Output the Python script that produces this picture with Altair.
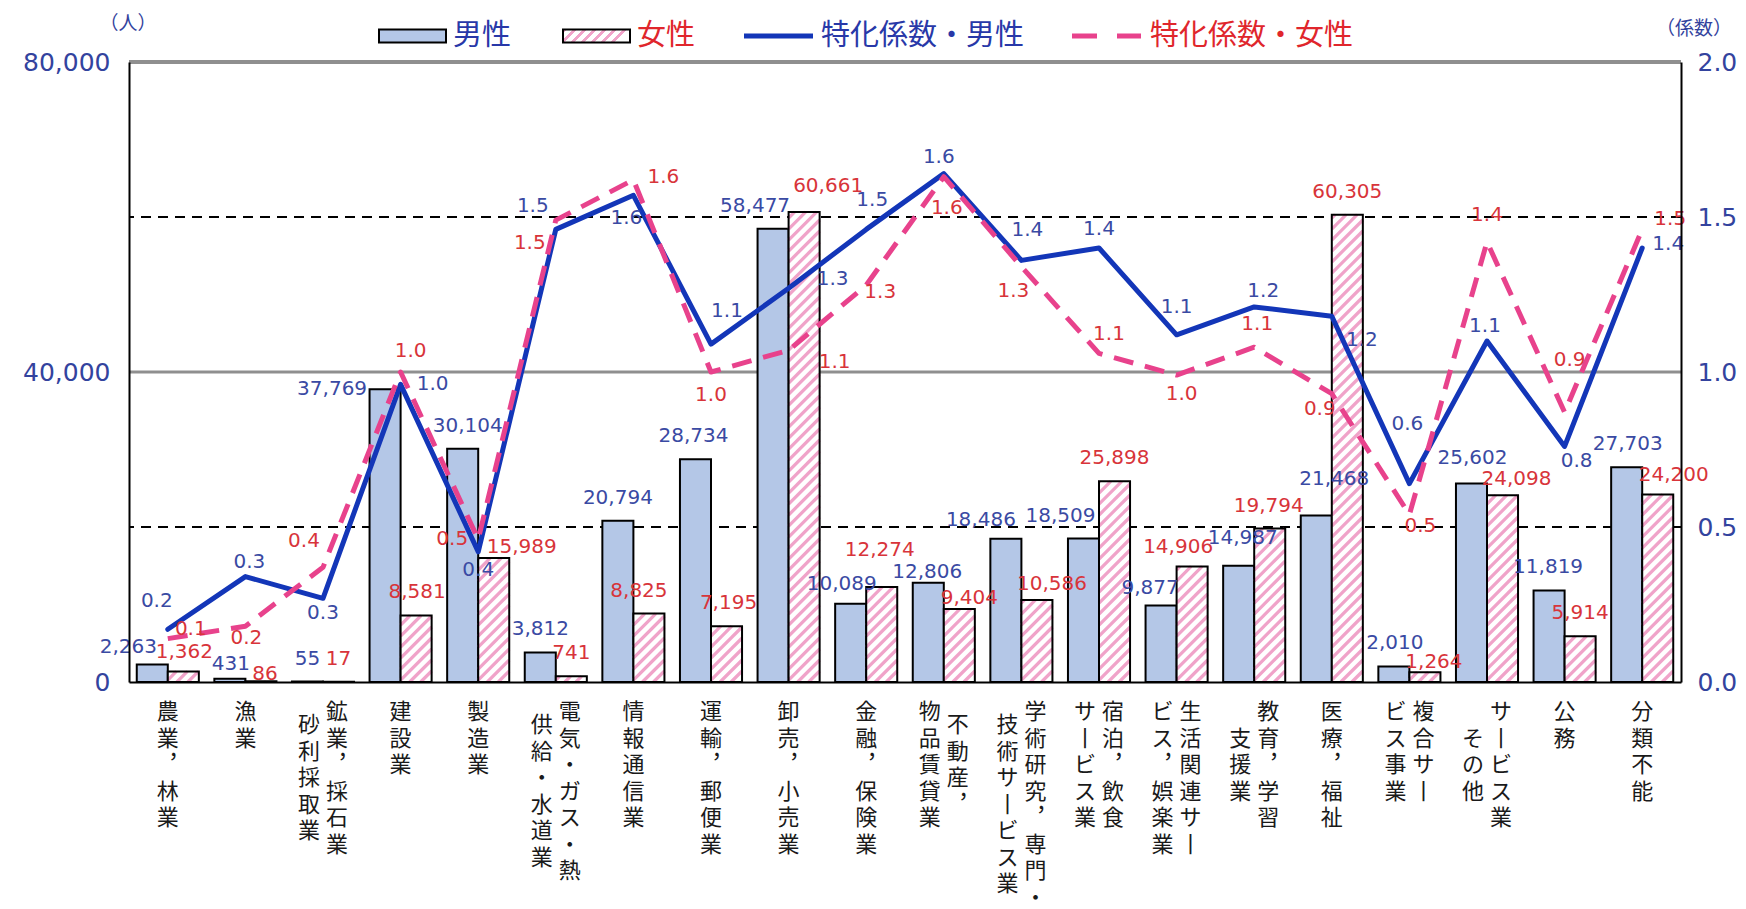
import altair as alt
import pandas as pd

# ---------------- data ----------------
CATEGORIES = ["農業，林業", "漁業", "鉱業，採石業，砂利採取業", "建設業", "製造業",
              "電気・ガス・熱供給・水道業", "情報通信業", "運輸，郵便業", "卸売，小売業", "金融，保険業",
              "不動産，物品賃貸業", "学術研究，専門・技術サービス業", "宿泊，飲食サービス業",
              "生活関連サービス業，娯楽業", "教育，学習支援業", "医療，福祉", "複合サービス事業",
              "サービス業（その他）", "公務", "分類不能"]
# tick labels as they are wrapped in the picture (vertical text, right column first)
LABEL_COLUMNS = [["農業，林業"], ["漁業"], ["鉱業，採石業", "砂利採取業"], ["建設業"], ["製造業"],
                 ["電気・ガス・熱", "供給・水道業"], ["情報通信業"], ["運輸，郵便業"], ["卸売，小売業"],
                 ["金融，保険業"], ["不動産，", "物品賃貸業"], ["学術研究，専門・", "技術サービス業"],
                 ["宿泊，飲食", "サービス業"], ["生活関連サー", "ビス，娯楽業"], ["教育，学習", "支援業"],
                 ["医療，福祉"], ["複合サー", "ビス事業"], ["サービス業", "その他"], ["公務"], ["分類不能"]]
MALE = [2263, 431, 55, 37769, 30104, 3812, 20794, 28734, 58477, 10089,
        12806, 18486, 18509, 9877, 14987, 21468, 2010, 25602, 11819, 27703]
FEMALE = [1362, 86, 17, 8581, 15989, 741, 8825, 7195, 60661, 12274,
          9404, 10586, 25898, 14906, 19794, 60305, 1264, 24098, 5914, 24200]
COEF_MALE = [0.17, 0.34, 0.27, 0.96, 0.42, 1.46, 1.57, 1.09, 1.27, 1.46,
             1.64, 1.36, 1.40, 1.12, 1.21, 1.18, 0.64, 1.10, 0.76, 1.40]
COEF_FEMALE = [0.14, 0.18, 0.37, 1.00, 0.46, 1.49, 1.62, 1.00, 1.07, 1.28,
               1.63, 1.34, 1.06, 0.99, 1.08, 0.93, 0.54, 1.42, 0.87, 1.46]
LEFT_TICKS = [0, 40000, 80000]
RIGHT_TICKS = [0.0, 0.5, 1.0, 1.5, 2.0]
LEGEND_LABELS = ["男性", "女性", "特化係数・男性", "特化係数・女性"]
UNIT_LEFT = "（人）"
UNIT_RIGHT = "（係数）"

# ---------------- label placement (style, pixels: dx right, dy down) ----------------
MALE_LABEL_OFF = [(-24, 6), (1, 8), (0, 0), (-53, 23), (5, 0), (0, 0), (0, 0), (-2, 0), (-18, 0), (-9, 3),
                  (-1, 12), (-25, 4), (-23, 0), (-11, 6), (4, -5), (18, -14), (1, 0), (1, -3), (-1, 0), (1, 0)]
FEMALE_LABEL_OFF = [(1, 4), (4, 16), (0, 0), (1, 0), (28, 12), (0, 0), (-10, 0), (2, 0), (24, -3), (-2, -14),
                    (10, 12), (15, 7), (0, 0), (-14, 4), (-1, 0), (0, 0), (9, 13), (14, 7), (0, 0), (16, 4)]
CM_LABEL_OFF = [(-11, -28), (4, -15), (0, 15), (32, 0), (0, 18), (-23, -23), (-7, 23), (16, -33), (44, -9), (6, -29),
                (-5, -17), (6, -30), (0, -19), (0, -28), (9, -16), (30, 24), (-2, -60), (-2, -15), (12, 15), (26, -4)]
CF_LABEL_OFF = [(23, -10), (1, 12), (-19, -26), (10, -21), (-26, 0), (-26, 23), (30, -3), (0, 23), (46, 12), (14, 7),
                (3, 31), (-8, 24), (10, -19), (5, 19), (3, -23), (-12, 15), (11, 11), (0, -27), (5, -52), (28, -10)]

# ---------------- styles ----------------
W, H = 1552, 620
PXU = W / 20.0          # px per category
PYL = H / 80000.0       # px per person
PYR = H / 2.0           # px per coefficient unit
NUM_FONT = "DejaVu Sans"
JP_FONT = "Noto Sans CJK JP"
AX_BLUE = "#33439E"
BLUE_TXT = "#3A4AA3"
RED_TXT = "#D8343A"
LEG_BLUE = "#2838A8"
LEG_RED = "#E0262C"
BLUE_LINE = "#1336B8"
PINK_LINE = "#E8428C"
MALE_FILL = "#B4C7E7"
STRIPE = "#F0A3C9"
BW_PX = 0.4 * PXU
STRIPE_STEP = 11

rows = []
for i, c in enumerate(CATEGORIES):
    rows.append(dict(cat=c, idx=i, male=MALE[i], female=FEMALE[i], cm=COEF_MALE[i], cf=COEF_FEMALE[i],
                     mdx=MALE_LABEL_OFF[i][0], mdy=MALE_LABEL_OFF[i][1],
                     fdx=FEMALE_LABEL_OFF[i][0], fdy=FEMALE_LABEL_OFF[i][1],
                     cmdx=CM_LABEL_OFF[i][0], cmdy=CM_LABEL_OFF[i][1],
                     cfdx=CF_LABEL_OFF[i][0], cfdy=CF_LABEL_OFF[i][1]))
df = pd.DataFrame(rows)

VERT = {"ー": "丨", "，": "︐"}
lab_rows = []
for i, cols in enumerate(LABEL_COLUMNS):
    maxlen = max(len(c) for c in cols)
    for j, col in enumerate(cols):
        off = 0 if len(cols) == 1 else (14 if j == 0 else -14)
        lab_rows.append(dict(idx=i, text="\n".join(VERT.get(ch, ch) for ch in col),
                             off=off, half=(maxlen - len(col)) / 2.0))
lab_df = pd.DataFrame(lab_rows)
one = pd.DataFrame({"k": [0]})

XS = alt.Scale(domain=[0, 20], nice=False, zero=False)
YL = alt.Scale(domain=[0, 80000], nice=False, zero=True)
YR = alt.Scale(domain=[0, 2], nice=False, zero=True)

AX_STYLE = dict(labelColor=AX_BLUE, labelFont=NUM_FONT, labelFontSize=25,
                ticks=False, tickSize=0, grid=False, domain=True, domainColor="black",
                domainWidth=2, title=None, labelOverlap=False, zindex=1)
X_AXIS = alt.Axis(labels=False, ticks=False, tickSize=0, grid=False, domain=True, domainColor="black",
                  domainWidth=2, title=None, zindex=1)
YL_AXIS = alt.Axis(values=LEFT_TICKS, format=",.0f", labelPadding=19, **AX_STYLE)
YR_AXIS = alt.Axis(orient="right", values=RIGHT_TICKS, format=".1f", labelPadding=16, **AX_STYLE)


def xq(f):
    return alt.X(f, type="quantitative", scale=XS, axis=X_AXIS)


def yl(f):
    return alt.Y(f, type="quantitative", scale=YL, axis=YL_AXIS)


def yr(f):
    return alt.Y(f, type="quantitative", scale=YR, axis=YR_AXIS)


# ---------------- left (people) group ----------------
grid_dash = alt.Chart(pd.DataFrame({"v": [LEFT_TICKS[1] / 2, LEFT_TICKS[1] * 1.5]})).mark_rule(
    color="black", strokeWidth=2, strokeDash=[10, 7]).encode(y=yl("v"))
grid_mid = alt.Chart(pd.DataFrame({"v": [LEFT_TICKS[1]]})).mark_rule(
    color="#8F8F8F", strokeWidth=3).encode(y=yl("v"))
grid_top = alt.Chart(pd.DataFrame({"v": [LEFT_TICKS[2]]})).mark_rule(
    color="#8F8F8F", strokeWidth=4).encode(y=yl("v"))

male_bar = alt.Chart(df).transform_calculate(
    x0="datum.idx + 0.1", x1="datum.idx + 0.5"
).mark_rect(fill=MALE_FILL, stroke="black", strokeWidth=2).encode(
    x=xq("x0"), x2="x1:Q", y=yl("male"), y2=alt.datum(0))
female_fill = alt.Chart(df).transform_calculate(
    x0="datum.idx + 0.5", x1="datum.idx + 0.9"
).mark_rect(fill="white").encode(x=xq("x0"), x2="x1:Q", y=yl("female"), y2=alt.datum(0))

stripes = alt.Chart(df).transform_calculate(
    hpx=f"datum.female * {PYL}",
    n=f"ceil((datum.hpx + {BW_PX}) / {STRIPE_STEP})",
    ks="sequence(0, datum.n + 1)",
).transform_flatten(["ks"]).transform_calculate(
    c=f"-{BW_PX} + datum.ks * {STRIPE_STEP}",
    xs="max(0, -datum.c)",
    xe=f"min({BW_PX}, datum.hpx - datum.c)",
).transform_filter("datum.xe > datum.xs + 0.5").transform_calculate(
    X1=f"datum.idx + 0.5 + datum.xs / {PXU}",
    X2=f"datum.idx + 0.5 + datum.xe / {PXU}",
    Y1=f"(datum.xs + datum.c) / {PYL}",
    Y2=f"(datum.xe + datum.c) / {PYL}",
).mark_rule(color=STRIPE, strokeWidth=3.2).encode(
    x=xq("X1"), x2="X2:Q", y=yl("Y1"), y2="Y2:Q")

female_outline = alt.Chart(df).transform_calculate(
    x0="datum.idx + 0.5", x1="datum.idx + 0.9"
).mark_rect(fillOpacity=0, stroke="black", strokeWidth=2).encode(
    x=xq("x0"), x2="x1:Q", y=yl("female"), y2=alt.datum(0))

male_lab = alt.Chart(df).transform_calculate(
    lx=f"datum.idx + 0.3 + datum.mdx / {PXU}",
    ly=f"datum.male + (23 - datum.mdy) / {PYL}",
).mark_text(font=NUM_FONT, fontSize=20, color=BLUE_TXT, align="center", baseline="middle").encode(
    x=xq("lx"), y=yl("ly"), text=alt.Text("male:Q", format=","))
female_lab = alt.Chart(df).transform_calculate(
    lx=f"datum.idx + 0.7 + datum.fdx / {PXU}",
    ly=f"datum.female + (23 - datum.fdy) / {PYL}",
).mark_text(font=NUM_FONT, fontSize=20, color=RED_TXT, align="center", baseline="middle").encode(
    x=xq("lx"), y=yl("ly"), text=alt.Text("female:Q", format=","))

# category labels (vertical text, drawn below the axis)
LH = 26.5
Y0 = 640
xlab_layers = []
for half in sorted(lab_df["half"].unique()):
    xlab_layers.append(
        alt.Chart(lab_df).transform_filter(f"datum.half == {half}").transform_calculate(
            lx=f"datum.idx + 0.5 + datum.off / {PXU}"
        ).mark_text(font=JP_FONT, fontSize=22, color="#1A1A1A", align="center", baseline="top",
                    lineBreak="\n", lineHeight=LH).encode(
            x=xq("lx"), y=alt.value(Y0 + half * LH), text="text:N"))


# legend and unit captions
def hatch_gradient(w, h, period=10.0, duty=0.42):
    norm = 1 + (h / w) ** 2
    p = period / (w * norm)
    stops = []
    t = 0.0
    while t < 1.0:
        a = min(1.0, t + p * duty)
        b = min(1.0, t + p)
        stops += [alt.GradientStop(offset=t, color=STRIPE), alt.GradientStop(offset=a, color=STRIPE),
                  alt.GradientStop(offset=a, color="white"), alt.GradientStop(offset=b, color="white")]
        t += p
    return alt.LinearGradient(gradient="linear", stops=stops, x1=0, y1=0, x2=1, y2=h / w)


LEG_Y = -26
leg = [
    alt.Chart(one).mark_rect(fill=MALE_FILL, stroke="black", strokeWidth=2).encode(
        x=alt.value(250), x2=alt.value(317), y=alt.value(LEG_Y - 6.5), y2=alt.value(LEG_Y + 6.5)),
    alt.Chart(one).mark_text(text=LEGEND_LABELS[0], font=JP_FONT, fontSize=29, color=LEG_BLUE,
                             align="left", baseline="middle").encode(x=alt.value(324), y=alt.value(LEG_Y)),
    alt.Chart(one).mark_rect(fill=hatch_gradient(67, 13), stroke="black", strokeWidth=2).encode(
        x=alt.value(434), x2=alt.value(501), y=alt.value(LEG_Y - 6.5), y2=alt.value(LEG_Y + 6.5)),
    alt.Chart(one).mark_text(text=LEGEND_LABELS[1], font=JP_FONT, fontSize=29, color=LEG_RED,
                             align="left", baseline="middle").encode(x=alt.value(508), y=alt.value(LEG_Y)),
    alt.Chart(one).mark_rule(color=BLUE_LINE, strokeWidth=5).encode(
        x=alt.value(615), x2=alt.value(684), y=alt.value(LEG_Y)),
    alt.Chart(one).mark_text(text=LEGEND_LABELS[2], font=JP_FONT, fontSize=29, color=LEG_BLUE,
                             align="left", baseline="middle").encode(x=alt.value(692), y=alt.value(LEG_Y)),
    alt.Chart(one).mark_rule(color=PINK_LINE, strokeWidth=5, strokeDash=[25, 20]).encode(
        x=alt.value(943), x2=alt.value(1012), y=alt.value(LEG_Y)),
    alt.Chart(one).mark_text(text=LEGEND_LABELS[3], font=JP_FONT, fontSize=29, color=LEG_RED,
                             align="left", baseline="middle").encode(x=alt.value(1021), y=alt.value(LEG_Y)),
    alt.Chart(one).mark_text(text=UNIT_LEFT, font=JP_FONT, fontSize=19, color=AX_BLUE,
                             align="center", baseline="middle").encode(x=alt.value(-1), y=alt.value(-38)),
    alt.Chart(one).mark_text(text=UNIT_RIGHT, font=JP_FONT, fontSize=19, color=AX_BLUE,
                             align="center", baseline="middle").encode(x=alt.value(1565), y=alt.value(-33)),
]

left = alt.layer(grid_mid, grid_dash, grid_top, male_bar, female_fill, stripes, female_outline,
                 male_lab, female_lab, *xlab_layers, *leg)

# ---------------- right (coefficient) group ----------------
line_m = alt.Chart(df).transform_calculate(xc="datum.idx + 0.5").mark_line(
    color=BLUE_LINE, strokeWidth=5, strokeJoin="round", strokeCap="round").encode(
    x=xq("xc"), y=yr("cm"))
line_f = alt.Chart(df).transform_calculate(xc="datum.idx + 0.5").mark_line(
    color=PINK_LINE, strokeWidth=5, strokeDash=[20, 12], strokeJoin="round").encode(
    x=xq("xc"), y=yr("cf"))
cm_lab = alt.Chart(df).transform_calculate(
    lx=f"datum.idx + 0.5 + datum.cmdx / {PXU}",
    ly=f"datum.cm - datum.cmdy / {PYR}",
).mark_text(font=NUM_FONT, fontSize=20, color=BLUE_TXT, align="center", baseline="middle").encode(
    x=xq("lx"), y=yr("ly"), text=alt.Text("cm:Q", format=".1f"))
cf_lab = alt.Chart(df).transform_calculate(
    lx=f"datum.idx + 0.5 + datum.cfdx / {PXU}",
    ly=f"datum.cf - datum.cfdy / {PYR}",
).mark_text(font=NUM_FONT, fontSize=20, color=RED_TXT, align="center", baseline="middle").encode(
    x=xq("lx"), y=yr("ly"), text=alt.Text("cf:Q", format=".1f"))

right = alt.layer(line_m, line_f, cm_lab, cf_lab)

chart = alt.layer(left, right).resolve_scale(y="independent").properties(
    width=W, height=H,
    padding={"left": 121, "top": 54, "right": 57, "bottom": 218},
    autosize=alt.AutoSizeParams(type="none"),
).configure_view(stroke="transparent")

chart.save("out.html", embed_options={"renderer": "svg", "actions": False})
